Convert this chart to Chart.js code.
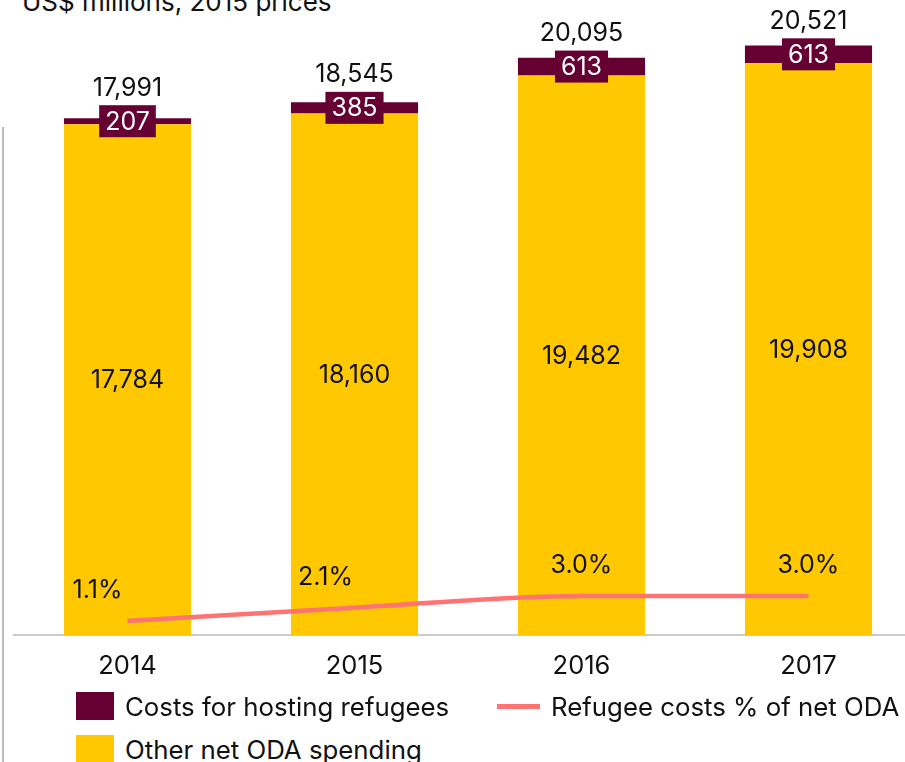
<!DOCTYPE html>
<html>
<head>
<meta charset="utf-8">
<script src="https://cdn.jsdelivr.net/npm/chart.js@4.4.0/dist/chart.umd.min.js"></script>
<style>
  body { margin: 0; width: 905px; height: 762px; overflow: hidden; position: relative; background: #fff; font-family: Inter, "Noto Sans", sans-serif; color: #111; }
  #titulo { position: absolute; left: 22px; top: -14px; font-size: 26px; white-space: nowrap; }
  #marco { position: absolute; left: 2px; top: 127px; width: 0; height: 640px; border-left: 2px solid #bdbdbd; }
  #chartBox { position: absolute; left: 0; top: 0; width: 930px; height: 708px; }
  #leyenda { position: absolute; left: 76px; top: 692px; font-size: 25.8px; }
  .item { position: absolute; white-space: nowrap; display: flex; align-items: center; height: 28px; }
  .caja { width: 38px; height: 28px; margin-right: 11px; }
  .linea { width: 43px; height: 5px; margin-right: 11px; }
</style>
</head>
<body>
<div id="titulo">US$ millions, 2015 prices</div>
<div id="marco"></div>
<div id="chartBox"><canvas id="myChart"></canvas></div>
<div id="leyenda"></div>

<script>
// datos
const anios = ["2014", "2015", "2016", "2017"];
const otraAyuda = [17784, 18160, 19482, 19908];      // Other net ODA spending
const costosRefugiados = [207, 385, 613, 613];      // Costs for hosting refugees
const porcentajeRefugiados = [1.1, 2.1, 3.0, 3.0];  // Refugee costs % of net ODA

const colorAmarillo = "#ffc800";
const colorGuinda = "#660033";
const colorLinea = "#ff7373";

// desplazamiento horizontal de las etiquetas de porcentaje
const corrimientoPct = [-30, -29, 0, 0];

const fuente = "25px Inter, 'Noto Sans', sans-serif";

const etiquetas = {
    id: "etiquetas",
    afterDatasetsDraw(chart) {
        const ctx = chart.ctx;
        const metaAmarillo = chart.getDatasetMeta(1);
        const metaGuinda = chart.getDatasetMeta(2);
        const metaLinea = chart.getDatasetMeta(0);
        ctx.save();
        ctx.font = fuente;
        ctx.textAlign = "center";
        ctx.textBaseline = "middle";

        metaAmarillo.data.forEach((bar, i) => {
            ctx.fillStyle = "#111";
            ctx.fillText(otraAyuda[i].toLocaleString("en-US"), bar.x, (bar.y + bar.base) / 2 + 1);
        });

        metaGuinda.data.forEach((bar, i) => {
            const centro = (bar.y + bar.base) / 2;
            const texto = costosRefugiados[i].toLocaleString("en-US");
            const ancho = ctx.measureText(texto).width + 12;
            const alto = 32;
            ctx.fillStyle = colorGuinda;
            ctx.fillRect(bar.x - ancho / 2, centro - alto / 2, ancho, alto);
            ctx.fillStyle = "#fff";
            ctx.fillText(texto, bar.x, centro + 1);
            const total = otraAyuda[i] + costosRefugiados[i];
            ctx.fillStyle = "#111";
            ctx.fillText(total.toLocaleString("en-US"), bar.x, centro - alto / 2 - 17);
        });

        metaLinea.data.forEach((pt, i) => {
            ctx.fillStyle = "#111";
            ctx.fillText(porcentajeRefugiados[i].toFixed(1) + "%", pt.x + corrimientoPct[i], pt.y - 30);
        });
        ctx.restore();
    }
};

const grafica = document.getElementById("myChart").getContext("2d");
const myChart = new Chart(grafica, {
    type: "bar",
    data: {
        labels: anios,
        datasets: [
            {
                type: "line",
                label: "Refugee costs % of net ODA",
                data: porcentajeRefugiados,
                yAxisID: "y1",
                borderColor: colorLinea,
                backgroundColor: colorLinea,
                borderWidth: 4.5,
                pointRadius: 0,
                cubicInterpolationMode: "monotone",
                order: -1
            },
            {
                label: "Other net ODA spending",
                data: otraAyuda,
                backgroundColor: colorAmarillo,
                stack: "oda",
                barPercentage: 0.56,
                categoryPercentage: 1
            },
            {
                label: "Costs for hosting refugees",
                data: costosRefugiados,
                backgroundColor: colorGuinda,
                stack: "oda",
                barPercentage: 0.56,
                categoryPercentage: 1
            }
        ]
    },
    options: {
        responsive: true,
        maintainAspectRatio: false,
        animation: false,
        layout: { padding: { left: 14, right: 8, top: 3, bottom: 10 } },
        plugins: {
            legend: { display: false },
            tooltip: { enabled: false }
        },
        scales: {
            x: {
                stacked: true,
                grid: { display: false, drawTicks: false },
                border: { display: true, color: "#cccccc", width: 2 },
                ticks: { color: "#111", font: { family: "Inter, 'Noto Sans', sans-serif", size: 25.5 }, padding: 16 }
            },
            y: {
                stacked: true,
                display: false,
                min: 0,
                max: 22000
            },
            y1: {
                display: false,
                min: 0,
                max: 48
            }
        }
    },
    plugins: [etiquetas]
});

// leyenda en html
const leyenda = document.getElementById("leyenda");
const itemsLeyenda = [
    { texto: "Costs for hosting refugees", color: colorGuinda, tipo: "caja", x: 0, y: 0 },
    { texto: "Refugee costs % of net ODA", color: colorLinea, tipo: "linea", x: 421, y: 0 },
    { texto: "Other net ODA spending", color: colorAmarillo, tipo: "caja", x: 0, y: 43 }
];
for (const it of itemsLeyenda) {
    let div = `<div class="item" style="left:${it.x}px; top:${it.y}px">
        <span class="${it.tipo}" style="background:${it.color}"></span>${it.texto}</div>`;
    leyenda.innerHTML += div;
}
</script>
</body>
</html>
